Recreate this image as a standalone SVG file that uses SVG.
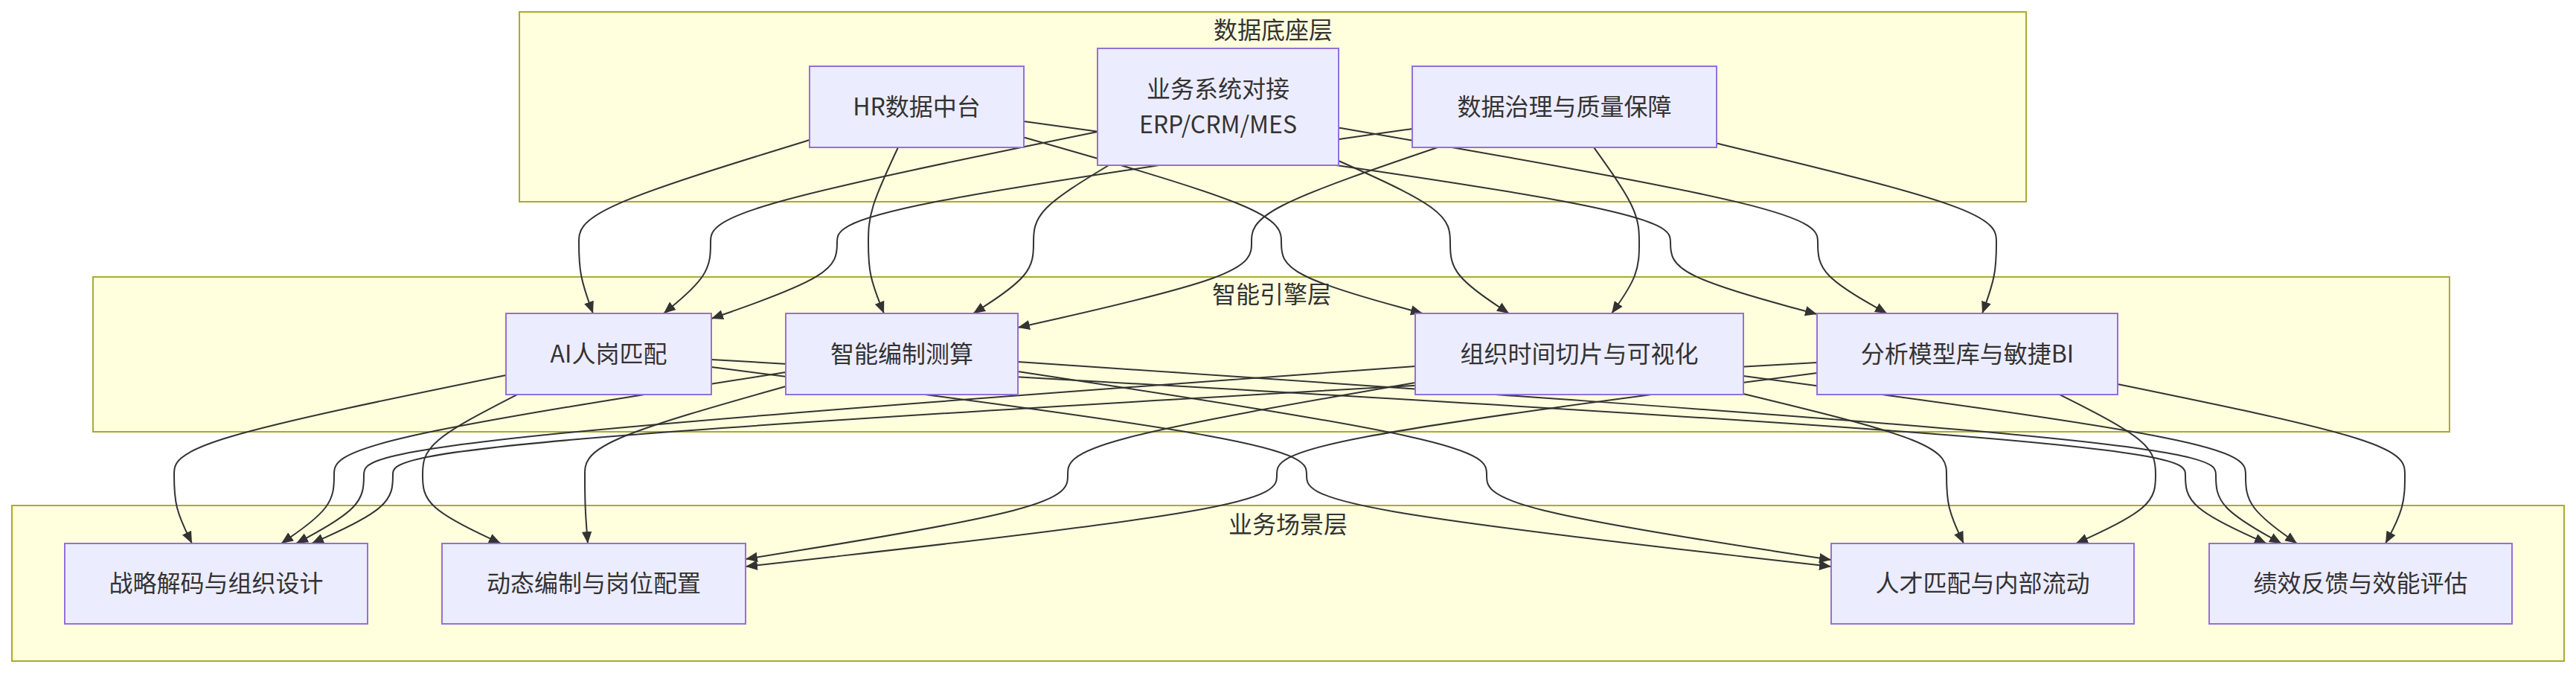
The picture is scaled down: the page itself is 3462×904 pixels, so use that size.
<svg xmlns="http://www.w3.org/2000/svg" width="3462" height="904" viewBox="0 0 3462 904">
<style>
.cluster rect{fill:#ffffde;stroke:#aaaa33;stroke-width:2}
.node rect{fill:#ECECFF;stroke:#9370DB;stroke-width:2}
text{font-family:"Noto Sans CJK SC","Liberation Sans",sans-serif;font-size:32px;fill:#333333;text-anchor:middle}
.edge{fill:none;stroke:#333333;stroke-width:2;marker-end:url(#arrow)}
</style>
<defs>
<marker id="arrow" viewBox="0 0 10 10" refX="10" refY="5" markerUnits="userSpaceOnUse" markerWidth="16" markerHeight="16" orient="auto">
<path d="M0,0.8 L10,5 L0,9.2 z" fill="#333333"/>
</marker>
</defs>
<rect width="3462" height="904" fill="#ffffff"/>
<g id="clusters">
<g id="layer-data" class="cluster"><rect x="698" y="16" width="2025" height="255"/><text x="1711" y="52">数据底座层</text></g>
<g id="layer-engine" class="cluster"><rect x="125" y="372" width="3167" height="208"/><text x="1709" y="407">智能引擎层</text></g>
<g id="layer-biz" class="cluster"><rect x="16" y="679" width="3430" height="209"/><text x="1731" y="716">业务场景层</text></g>
</g>
<g id="connectors">
<path class="edge" d="M1088,188 C984.7,219.7 881.3,251.3 829.7,274.3 C778,297.3 778,311.7 778,326 C778,340.3 778,354.7 781.2,370.5 C784.3,386.3 790.7,403.7 793.8,412.3 L797,421"/>
<path class="edge" d="M1207,198 C1193.7,226.3 1180.3,254.7 1173.7,276 C1167,297.3 1167,311.7 1167,326 C1167,340.3 1167,354.7 1170.5,370.5 C1174,386.3 1181,403.7 1184.5,412.3 L1188,421"/>
<path class="edge" d="M1376,184.5 C1491.3,217.3 1606.7,250.2 1664.3,273.8 C1722,297.3 1722,311.7 1722,326 C1722,340.3 1722,354.7 1753.7,370.5 C1785.3,386.3 1848.7,403.7 1880.3,412.3 L1912,421"/>
<path class="edge" d="M1376,163 C1665.7,203 1955.3,243 2100.2,270.2 C2245,297.3 2245,311.7 2245,326 C2245,340.3 2245,354.7 2277.8,370.7 C2310.7,386.7 2376.3,404.3 2409.2,413.2 L2442,422"/>
<path class="edge" d="M1475,177 C1301.7,212.3 1128.3,247.7 1041.7,272.5 C955,297.3 955,311.7 955,326 C955,340.3 955,354.7 944.5,370.5 C934,386.3 913,403.7 902.5,412.3 L892,421"/>
<path class="edge" d="M1490,222 C1456.3,242.3 1422.7,262.7 1405.8,280 C1389,297.3 1389,311.7 1389,326 C1389,340.3 1389,354.7 1375.5,370.5 C1362,386.3 1335,403.7 1321.5,412.3 L1308,421"/>
<path class="edge" d="M1799,216 C1849,238.3 1899,260.7 1924,279 C1949,297.3 1949,311.7 1949,326 C1949,340.3 1949,354.7 1962.2,370.5 C1975.3,386.3 2001.7,403.7 2014.8,412.3 L2028,421"/>
<path class="edge" d="M1799,171.5 C2013.7,208.7 2228.3,245.8 2335.7,271.6 C2443,297.3 2443,311.7 2443,326 C2443,340.3 2443,354.7 2458.5,370.5 C2474,386.3 2505,403.7 2520.5,412.3 L2536,421"/>
<path class="edge" d="M1898,173 C1640.3,209.7 1382.7,246.3 1253.8,271.8 C1125,297.3 1125,311.7 1125,326 C1125,340.3 1125,354.7 1096.8,371.7 C1068.7,388.7 1012.3,408.3 984.2,418.2 L956,428"/>
<path class="edge" d="M1932,198 C1848.7,226.3 1765.3,254.7 1723.7,276 C1682,297.3 1682,311.7 1682,326 C1682,340.3 1682,354.7 1629.7,373.7 C1577.3,392.7 1472.7,416.3 1420.3,428.2 L1368,440"/>
<path class="edge" d="M2142,198 C2162.3,226.3 2182.7,254.7 2192.8,276 C2203,297.3 2203,311.7 2203,326 C2203,340.3 2203,354.7 2196.8,370.5 C2190.7,386.3 2178.3,403.7 2172.2,412.3 L2166,421"/>
<path class="edge" d="M2307,192.5 C2432.3,222.7 2557.7,252.8 2620.3,275.1 C2683,297.3 2683,311.7 2683,326 C2683,340.3 2683,354.7 2679.8,370.5 C2676.7,386.3 2670.3,403.7 2667.2,412.3 L2664,421"/>
<path class="edge" d="M680,504 C531.3,534.3 382.7,564.7 308.3,587 C234,609.3 234,623.7 234,638 C234,652.3 234,666.7 238,682 C242,697.3 250,713.7 254,721.8 L258,730"/>
<path class="edge" d="M695,530 C652.7,551.7 610.3,573.3 589.2,591.3 C568,609.3 568,623.7 568,638 C568,652.3 568,666.7 585.5,682 C603,697.3 638,713.7 655.5,721.8 L673,730"/>
<path class="edge" d="M956,493 C1222.7,527 1489.3,561 1622.7,585.2 C1756,609.3 1756,623.7 1756,638 C1756,652.3 1756,666.7 1873.5,687.2 C1991,707.7 2226,734.3 2343.5,747.7 L2461,761"/>
<path class="edge" d="M956,483 C1616.3,520.3 2276.7,557.7 2606.8,583.5 C2937,609.3 2937,623.7 2937,638 C2937,652.3 2937,666.7 2955.2,682 C2973.3,697.3 3009.7,713.7 3027.8,721.8 L3046,730"/>
<path class="edge" d="M1056,500 C853.7,531.7 651.3,563.3 550.2,586.3 C449,609.3 449,623.7 449,638 C449,652.3 449,666.7 437.2,682 C425.3,697.3 401.7,713.7 389.8,721.8 L378,730"/>
<path class="edge" d="M1056,519 C966,544.3 876,569.7 831,589.5 C786,609.3 786,623.7 786,638 C786,652.3 786,666.7 786.7,682 C787.3,697.3 788.7,713.7 789.3,721.8 L790,730"/>
<path class="edge" d="M1368,499 C1578,531 1788,563 1893,586.2 C1998,609.3 1998,623.7 1998,638 C1998,652.3 1998,666.7 2075.2,685.7 C2152.3,704.7 2306.7,728.3 2383.8,740.2 L2461,752"/>
<path class="edge" d="M1368,486 C1904.7,522.3 2441.3,558.7 2709.7,584 C2978,609.3 2978,623.7 2978,638 C2978,652.3 2978,666.7 2992.7,682 C3007.3,697.3 3036.7,713.7 3051.3,721.8 L3066,730"/>
<path class="edge" d="M1902,492 C1431,526.3 960,560.7 724.5,585 C489,609.3 489,623.7 489,638 C489,652.3 489,666.7 473.8,682 C458.7,697.3 428.3,713.7 413.2,721.8 L398,730"/>
<path class="edge" d="M1902,514 C1746.3,541 1590.7,568 1512.8,588.7 C1435,609.3 1435,623.7 1435,638 C1435,652.3 1435,666.7 1362.8,685.5 C1290.7,704.3 1146.3,727.7 1074.2,739.3 L1002,751"/>
<path class="edge" d="M2343,529 C2434,551 2525,573 2570.5,591.2 C2616,609.3 2616,623.7 2616,638 C2616,652.3 2616,666.7 2619.8,682 C2623.7,697.3 2631.3,713.7 2635.2,721.8 L2639,730"/>
<path class="edge" d="M2343,505 C2568,535 2793,565 2905.5,587.2 C3018,609.3 3018,623.7 3018,638 C3018,652.3 3018,666.7 3029.5,682 C3041,697.3 3064,713.7 3075.5,721.8 L3087,730"/>
<path class="edge" d="M2442,487 C1804,523 1166,559 847,584.2 C528,609.3 528,623.7 528,638 C528,652.3 528,666.7 509.8,682 C491.7,697.3 455.3,713.7 437.2,721.8 L419,730"/>
<path class="edge" d="M2442,501 C2200,532.3 1958,563.7 1837,586.5 C1716,609.3 1716,623.7 1716,638 C1716,652.3 1716,666.7 1597,687.2 C1478,707.7 1240,734.3 1121,747.7 L1002,761"/>
<path class="edge" d="M2768,530 C2811,551.7 2854,573.3 2875.5,591.3 C2897,609.3 2897,623.7 2897,638 C2897,652.3 2897,666.7 2879.2,682 C2861.3,697.3 2825.7,713.7 2807.8,721.8 L2790,730"/>
<path class="edge" d="M2846,516 C2974.7,542.3 3103.3,568.7 3167.7,589 C3232,609.3 3232,623.7 3232,638 C3232,652.3 3232,666.7 3227.7,682 C3223.3,697.3 3214.7,713.7 3210.3,721.8 L3206,730"/>
</g>
<g id="nodes">
<g id="hr-data" class="node"><rect x="1088" y="89" width="288" height="109"/><text x="1232" y="155">HR数据中台</text></g>
<g id="biz-systems" class="node"><rect x="1475" y="65" width="324" height="157"/><text x="1637" y="131">业务系统对接</text><text x="1637" y="179">ERP/CRM/MES</text></g>
<g id="data-governance" class="node"><rect x="1898" y="89" width="409" height="109"/><text x="2102.5" y="155">数据治理与质量保障</text></g>
<g id="ai-matching" class="node"><rect x="680" y="421" width="276" height="109"/><text x="818" y="487">AI人岗匹配</text></g>
<g id="headcount-calc" class="node"><rect x="1056" y="421" width="312" height="109"/><text x="1212" y="487">智能编制测算</text></g>
<g id="org-timeslice" class="node"><rect x="1902" y="421" width="441" height="109"/><text x="2122.5" y="487">组织时间切片与可视化</text></g>
<g id="analytics-bi" class="node"><rect x="2442" y="421" width="404" height="109"/><text x="2644" y="487">分析模型库与敏捷BI</text></g>
<g id="strategy" class="node"><rect x="87" y="730" width="407" height="108"/><text x="290.5" y="795">战略解码与组织设计</text></g>
<g id="dynamic-staffing" class="node"><rect x="594" y="730" width="408" height="108"/><text x="798" y="795">动态编制与岗位配置</text></g>
<g id="talent-mobility" class="node"><rect x="2461" y="730" width="407" height="108"/><text x="2664.5" y="795">人才匹配与内部流动</text></g>
<g id="performance" class="node"><rect x="2969" y="730" width="407" height="108"/><text x="3172.5" y="795">绩效反馈与效能评估</text></g>
</g>
</svg>
